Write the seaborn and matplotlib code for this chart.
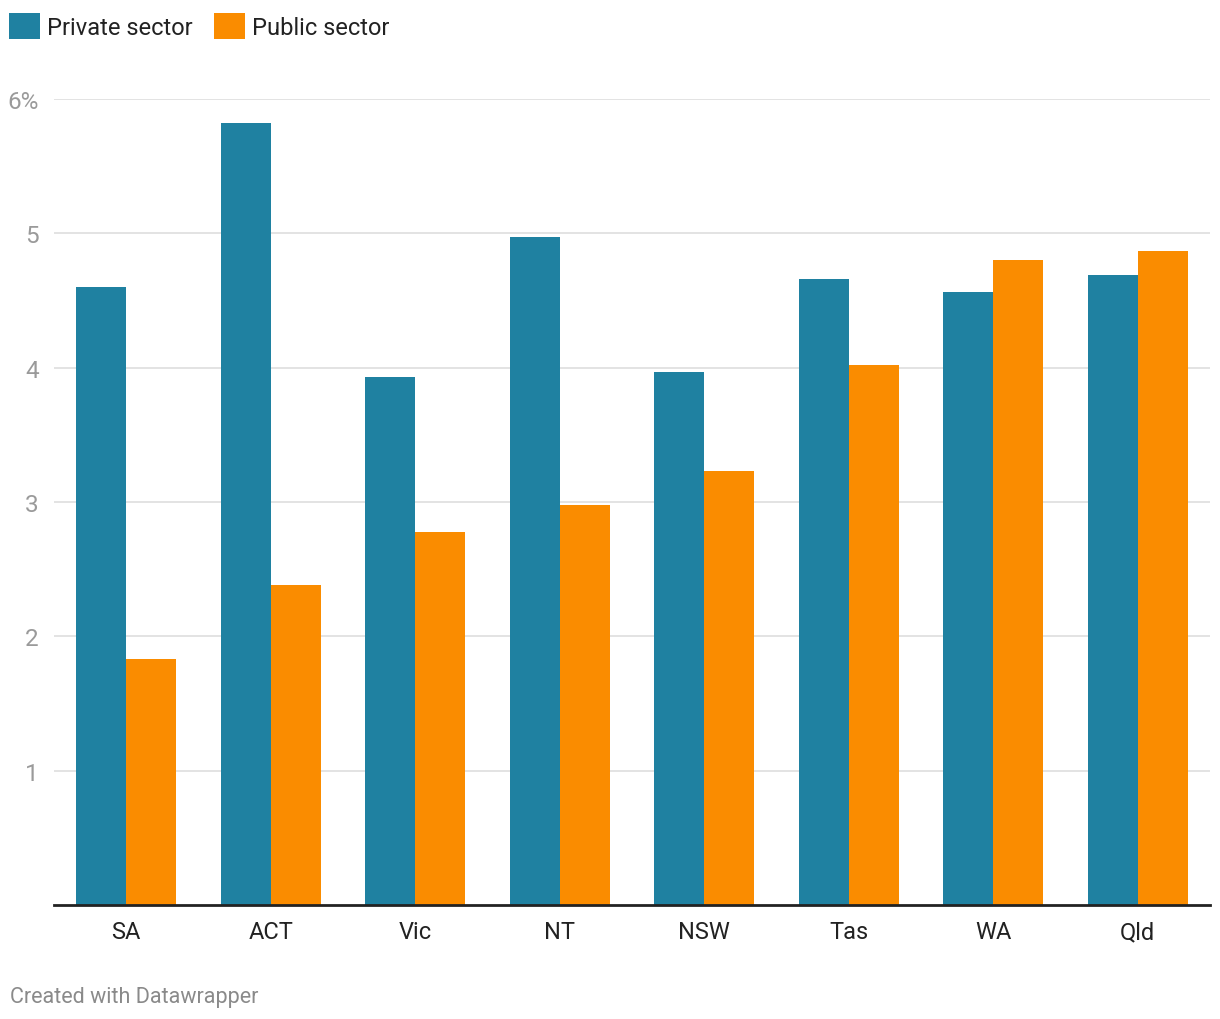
"""Grouped bar chart of private vs public sector by state."""

import pandas as pd
import seaborn as sns
import matplotlib.pyplot as plt

states = ["SA", "ACT", "Vic", "NT", "NSW", "Tas", "WA", "Qld"]
private_sector = [4.60, 5.82, 3.93, 4.97, 3.97, 4.66, 4.56, 4.69]
public_sector = [1.83, 2.38, 2.78, 2.98, 3.23, 4.02, 4.80, 4.87]
series_names = ["Private sector", "Public sector"]
y_ticks = [1, 2, 3, 4, 5, 6]
y_tick_labels = ["1", "2", "3", "4", "5", "6%"]


def main() -> None:
    df = pd.DataFrame({
        "state": states * 2,
        "value": private_sector + public_sector,
        "sector": [series_names[0]] * len(states) + [series_names[1]] * len(states),
    })

    sns.set_style("white")
    plt.rcParams["font.family"] = ["Roboto", "DejaVu Sans"]

    fig = plt.figure(figsize=(12.2, 10.2), dpi=100)
    ax = fig.add_axes([54 / 1220, 1 - 906 / 1020, 1156 / 1220, 806 / 1020])

    sns.barplot(
        data=df,
        x="state",
        y="value",
        hue="sector",
        hue_order=series_names,
        order=states,
        palette=["#1f81a1", "#fa8c00"],
        width=0.69,
        gap=0,
        saturation=1,
        linewidth=0,
        ax=ax,
    )

    ax.set_ylim(0, 6)
    ax.set_xlim(-0.5, len(states) - 0.5)
    ax.set_yticks(y_ticks)
    ax.set_yticklabels(y_tick_labels)
    ax.yaxis.grid(True, color="#e0e0e0", linewidth=1.3)
    ax.set_axisbelow(True)
    for side in ["top", "right", "left"]:
        ax.spines[side].set_visible(False)
    ax.spines["bottom"].set_color("#222222")
    ax.spines["bottom"].set_linewidth(2)
    ax.spines["bottom"].set_zorder(5)
    ax.tick_params(axis="y", length=0, pad=11, labelsize=17.5, labelcolor="#9a9a9a")
    ax.tick_params(axis="x", length=0, pad=11, labelsize=17, labelcolor="#222222")
    ax.set_xlabel("")
    ax.set_ylabel("")

    sns.move_legend(
        ax,
        loc="upper left",
        bbox_to_anchor=(0.0, 1 - 5 / 1020),
        bbox_transform=fig.transFigure,
        ncol=2,
        title=None,
        frameon=False,
        fontsize=17,
        handlelength=1.3,
        handleheight=1.3,
        handletextpad=0.3,
        columnspacing=0.9,
        borderaxespad=0.2,
        borderpad=0.2,
    )
    for text in ax.get_legend().get_texts():
        text.set_color("#222222")

    fig.text(10 / 1220, 1 - 998 / 1020, "Created with Datawrapper",
             fontsize=15.5, color="#8a8a8a", va="center", ha="left")

    fig.savefig("out.png", dpi=100)
    plt.close(fig)


if __name__ == "__main__":
    main()
